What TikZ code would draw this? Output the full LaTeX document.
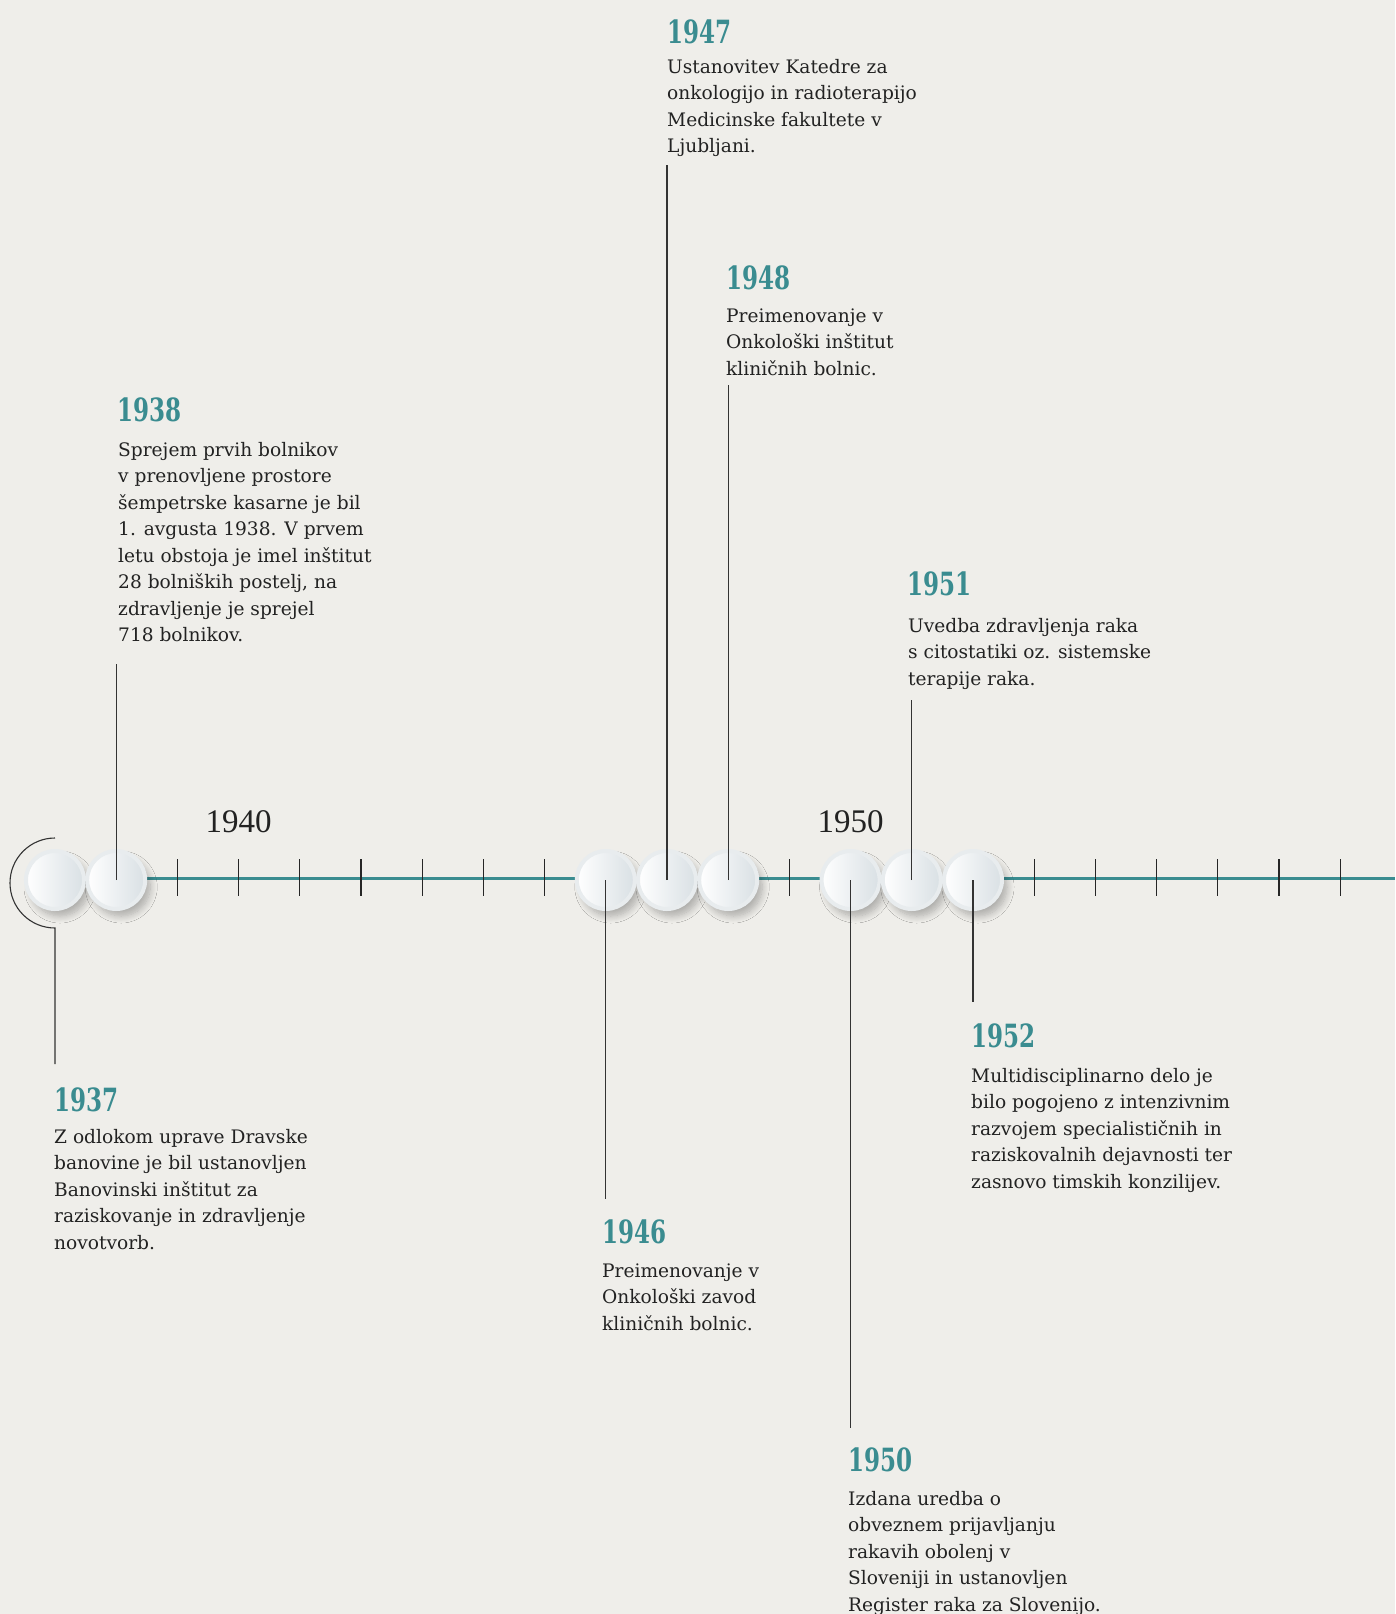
\documentclass[tikz,border=0pt]{standalone}
\usepackage{fontspec}
\setmainfont{DejaVu Serif}
\newfontfamily\yearfont{DejaVu Serif}[FakeStretch=0.72]
\newfontfamily\axisfont{Liberation Serif}
\usetikzlibrary{shadows.blur}
\definecolor{bgc}{HTML}{EFEEEA}
\definecolor{tealc}{HTML}{3A8C90}
\definecolor{txtc}{HTML}{222222}
\definecolor{rimc}{HTML}{E8ECEE}
\definecolor{diskc}{HTML}{D9E0E4}
\tikzset{
  dot/.style={circle, minimum size=58pt, inner sep=0pt, draw=rimc, line width=4pt,
    left color=white, right color=diskc,
    blur shadow={shadow xshift=5pt, shadow yshift=-7pt, shadow blur radius=7pt, shadow blur steps=10, shadow opacity=28}},
  yr/.style={anchor=base west, inner sep=0pt, text=tealc, font=\yearfont\bfseries\fontsize{32}{32}\selectfont},
  body/.style={anchor=base west, inner sep=0pt, align=left, text=txtc, font=\fontsize{18.6}{26.5}\selectfont},
  axlabel/.style={anchor=base, inner sep=0pt, text=txtc, font=\axisfont\fontsize{33}{33}\selectfont},
  tickmark/.style={draw=black!85, line width=1.2pt},
  conn/.style={draw=black!80, line width=1.1pt},
  axisline/.style={draw=tealc, line width=3pt}
}
\begin{document}
\begin{tikzpicture}[x=1pt,y=-1pt]
\useasboundingbox (0,0) rectangle (1395,1614);
\fill[bgc] (0,0) rectangle (1395,1614);
% axis
\coordinate (axL) at (116.2,878);
\coordinate (axR) at (1395,878);
\draw[axisline] (axL) -- (axR);
% ticks
\foreach \k in {2,...,8,12,16,17,18,19,20,21}{
  \draw[tickmark] (55+61.2*\k,859) -- (55+61.2*\k,896);
}
% axis labels
\node[axlabel] (l1940) at (238.6,832) {1940};
\node[axlabel] (l1950) at (850.6,832) {1950};
% circles
\node[dot] (c1937) at (55,880) {};
\node[dot] (c1938) at (116.2,880) {};
\node[dot] (c1946) at (605.8,880) {};
\node[dot] (c1947) at (667,880) {};
\node[dot] (c1948) at (728.2,880) {};
\node[dot] (c1950) at (850.6,880) {};
\node[dot] (c1951) at (911.8,880) {};
\node[dot] (c1952) at (973,880) {};
% connector ends
\coordinate (e1937) at (55,1064);
\coordinate (e1938) at (116.2,664);
\coordinate (e1946) at (605.8,1199);
\coordinate (e1947) at (667,165);
\coordinate (e1948) at (728.2,385);
\coordinate (e1950) at (850.6,1428);
\coordinate (e1951) at (911.8,700);
\coordinate (e1952) at (973,1002);
% connectors
\draw[conn] (e1937) -- ++(0,-136) arc[start angle=90, end angle=270, radius=45];
\draw[conn] (c1938.center) -- (e1938);
\draw[conn] (c1946.center) -- (e1946);
\draw[conn] (c1947.center) -- (e1947);
\draw[conn] (c1948.center) -- (e1948);
\draw[conn] (c1950.center) -- (e1950);
\draw[conn] (c1951.center) -- (e1951);
\draw[conn] (c1952.center) -- (e1952);
% texts (body nodes anchored at the baseline of their last line)
\node[yr] (y1937) at (54,1111) {1937};
\node[body] (t1937) at (54,1249) {Z odlokom uprave Dravske\\banovine je bil ustanovljen\\Banovinski inštitut za\\raziskovanje in zdravljenje\\novotvorb.};
\node[yr] (y1938) at (117,421) {1938};
\node[body] (t1938) at (118,641.5) {Sprejem prvih bolnikov\\v prenovljene prostore\\šempetrske kasarne je bil\\1. avgusta 1938. V prvem\\letu obstoja je imel inštitut\\28 bolniških postelj, na\\zdravljenje je sprejel\\718 bolnikov.};
\node[yr] (y1946) at (602,1243) {1946};
\node[body] (t1946) at (602,1330) {Preimenovanje v\\Onkološki zavod\\kliničnih bolnic.};
\node[yr] (y1947) at (667,43) {1947};
\node[body] (t1947) at (667,152.5) {Ustanovitev Katedre za\\onkologijo in radioterapijo\\Medicinske fakultete v\\Ljubljani.};
\node[yr] (y1948) at (726,289) {1948};
\node[body] (t1948) at (726,375) {Preimenovanje v\\Onkološki inštitut\\kliničnih bolnic.};
\node[yr] (y1951) at (907,595) {1951};
\node[body] (t1951) at (908,685) {Uvedba zdravljenja raka\\s citostatiki oz. sistemske\\terapije raka.};
\node[yr] (y1952) at (971,1047) {1952};
\node[body] (t1952) at (971,1188) {Multidisciplinarno delo je\\bilo pogojeno z intenzivnim\\razvojem specialističnih in\\raziskovalnih dejavnosti ter\\zasnovo timskih konzilijev.};
\node[yr] (y1950) at (848,1471) {1950};
\node[body] (t1950) at (848,1611) {Izdana uredba o\\obveznem prijavljanju\\rakavih obolenj v\\Sloveniji in ustanovljen\\Register raka za Slovenijo.};
\end{tikzpicture}
\end{document}
